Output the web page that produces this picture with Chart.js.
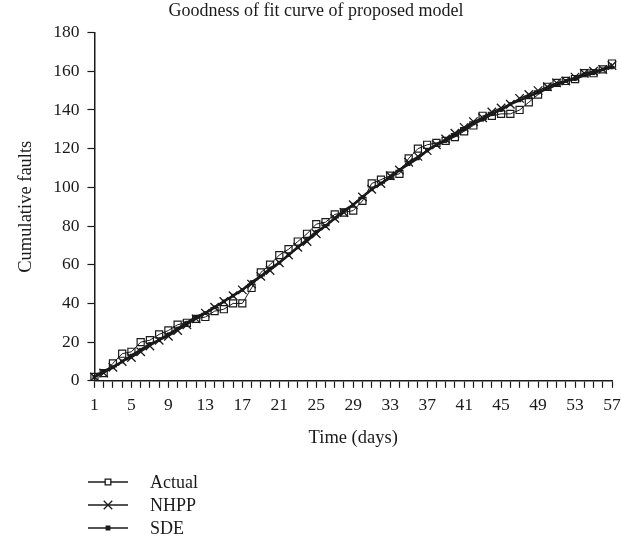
<!DOCTYPE html>
<html>
<head>
<meta charset="utf-8">
<script src="https://cdn.jsdelivr.net/npm/chart.js@4/dist/chart.umd.min.js"></script>
<style>
  html, body { margin: 0; padding: 0; background: #fff; }
</style>
</head>
<body>
<canvas id="myChart" width="621" height="548"></canvas>
<script>
// Days 1..57
const days = [
  1, 2, 3, 4, 5, 6, 7, 8, 9, 10, 11, 12, 13, 14, 15, 16, 17, 18, 19, 20,
  21, 22, 23, 24, 25, 26, 27, 28, 29, 30, 31, 32, 33, 34, 35, 36, 37, 38, 39, 40,
  41, 42, 43, 44, 45, 46, 47, 48, 49, 50, 51, 52, 53, 54, 55, 56, 57,
];

// Observed cumulative faults
const actual = [
  2, 4, 9, 14, 15, 20, 21, 24, 26, 29, 30, 32, 33, 36, 37, 40, 40, 48, 56, 60,
  65, 68, 72, 76, 81, 82, 86, 87, 88, 93, 102, 104, 106, 107, 115, 120, 122, 123, 124, 126,
  129, 132, 137, 137, 138, 138, 140, 144, 148, 152, 154, 155, 156, 159, 159, 161, 164,
];

// NHPP model estimates
const nhpp = [
  2, 4, 7, 10, 12, 15, 18, 21, 23, 26, 29, 32, 35, 38, 41, 44, 47, 50, 54, 57,
  61, 65, 69, 72, 76, 80, 84, 87, 91, 95, 99, 102, 106, 109, 113, 116, 119, 122, 125, 128,
  131, 134, 136, 139, 141, 143, 146, 148, 150, 152, 154, 155, 157, 159, 160, 161, 163,
];

// SDE model estimates
const sde = [
  2, 5, 7, 10, 13, 16, 19, 21, 24, 27, 30, 33, 35, 38, 41, 44, 47, 51, 54, 58,
  61, 65, 69, 73, 77, 80, 84, 88, 91, 95, 99, 102, 105, 109, 112, 115, 119, 122, 124, 127,
  130, 133, 135, 138, 140, 143, 145, 147, 149, 151, 153, 155, 156, 158, 159, 161, 162,
];

const yTicks = [0, 20, 40, 60, 80, 100, 120, 140, 160, 180];

const FONT = "'Liberation Serif', 'DejaVu Serif', serif";
const INK = "#1a1a1a";

Chart.defaults.font.family = FONT;
Chart.defaults.color = INK;

// draws the vertical legend under the axis title
const stackedLegend = {
  id: "stackedLegend",
  afterDraw(chart) {
    const c = chart.ctx;
    const x0 = 88, x1 = 128, tx = 150;
    const rows = [482, 505, 528];
    c.save();
    chart.data.datasets.forEach((ds, i) => {
      const y = rows[i];
      c.strokeStyle = INK;
      c.lineWidth = 1.3;
      c.beginPath();
      c.moveTo(x0, y);
      c.lineTo(x1, y);
      c.stroke();
      c.fillStyle = ds.legendFill;
      c.strokeStyle = INK;
      Chart.helpers.drawPoint(c, {
        pointStyle: ds.pointStyle,
        radius: ds.legendRadius,
        borderWidth: ds.pointBorderWidth,
      }, (x0 + x1) / 2, y);
      c.fillStyle = INK;
      c.font = "18px " + FONT;
      c.textBaseline = "middle";
      c.fillText(ds.label, tx, y + 1);
    });
    c.restore();
  },
};

const data = {
  labels: days,
  datasets: [
    {
      label: "Actual",
      data: actual,
      borderColor: INK,
      borderWidth: 1,
      pointStyle: "rect",
      pointRadius: 5,
      legendRadius: 4,
      legendFill: "#fff",
      pointBorderWidth: 1.2,
      pointBackgroundColor: "rgba(255,255,255,0)",
      pointBorderColor: INK,
      tension: 0,
      order: 3,
    },
    {
      label: "NHPP",
      data: nhpp,
      borderColor: INK,
      borderWidth: 1.5,
      pointStyle: "crossRot",
      pointRadius: 6,
      legendRadius: 6,
      legendFill: INK,
      pointBorderWidth: 1.3,
      pointBorderColor: INK,
      tension: 0,
      order: 2,
    },
    {
      label: "SDE",
      data: sde,
      borderColor: INK,
      borderWidth: 2.5,
      pointStyle: "rect",
      pointRadius: 2,
      legendRadius: 2.5,
      legendFill: INK,
      pointBorderWidth: 1,
      pointBackgroundColor: INK,
      pointBorderColor: INK,
      tension: 0,
      order: 1,
    },
  ],
};

const config = {
  type: "line",
  data: data,
  options: {
    responsive: false,
    animation: false,
    layout: {
      padding: { left: 11, right: 0, top: 0, bottom: 95 },
    },
    scales: {
      x: {
        offset: false,
        afterFit: (axis) => {
          // let the last label sit close to the right edge like the original
          axis.paddingRight = 9;
        },
        grid: {
          drawOnChartArea: false,
          drawTicks: true,
          tickLength: 7,
          tickColor: INK,
          tickWidth: 1.2,
        },
        border: { color: INK, width: 1.5 },
        ticks: {
          autoSkip: false,
          maxRotation: 0,
          padding: 7,
          font: { size: 17.5 },
          callback: (v, i) => (i % 4 === 0 ? days[i] : ""),
        },
        title: {
          display: true,
          text: "Time (days)",
          font: { size: 18.5 },
          padding: { top: 4 },
        },
      },
      y: {
        min: 0,
        max: 180,
        afterBuildTicks: (axis) => {
          axis.ticks = yTicks.map((v) => ({ value: v }));
        },
        grid: {
          drawOnChartArea: false,
          drawTicks: true,
          tickLength: 7,
          tickColor: INK,
          tickWidth: 1.2,
        },
        border: { color: INK, width: 1.5 },
        ticks: {
          padding: 8,
          font: { size: 17.5 },
        },
        title: {
          display: true,
          text: "Cumulative faults",
          font: { size: 18.5 },
          padding: { bottom: 8 },
        },
      },
    },
    plugins: {
      legend: { display: false },
      tooltip: { enabled: false },
      title: {
        display: true,
        text: "Goodness of fit curve of proposed model",
        font: { size: 18, weight: "normal" },
        color: INK,
        padding: { top: 0, bottom: 11 },
      },
    },
  },
  plugins: [stackedLegend],
};

const myChart = new Chart(document.getElementById("myChart").getContext("2d"), config);
</script>
</body>
</html>
